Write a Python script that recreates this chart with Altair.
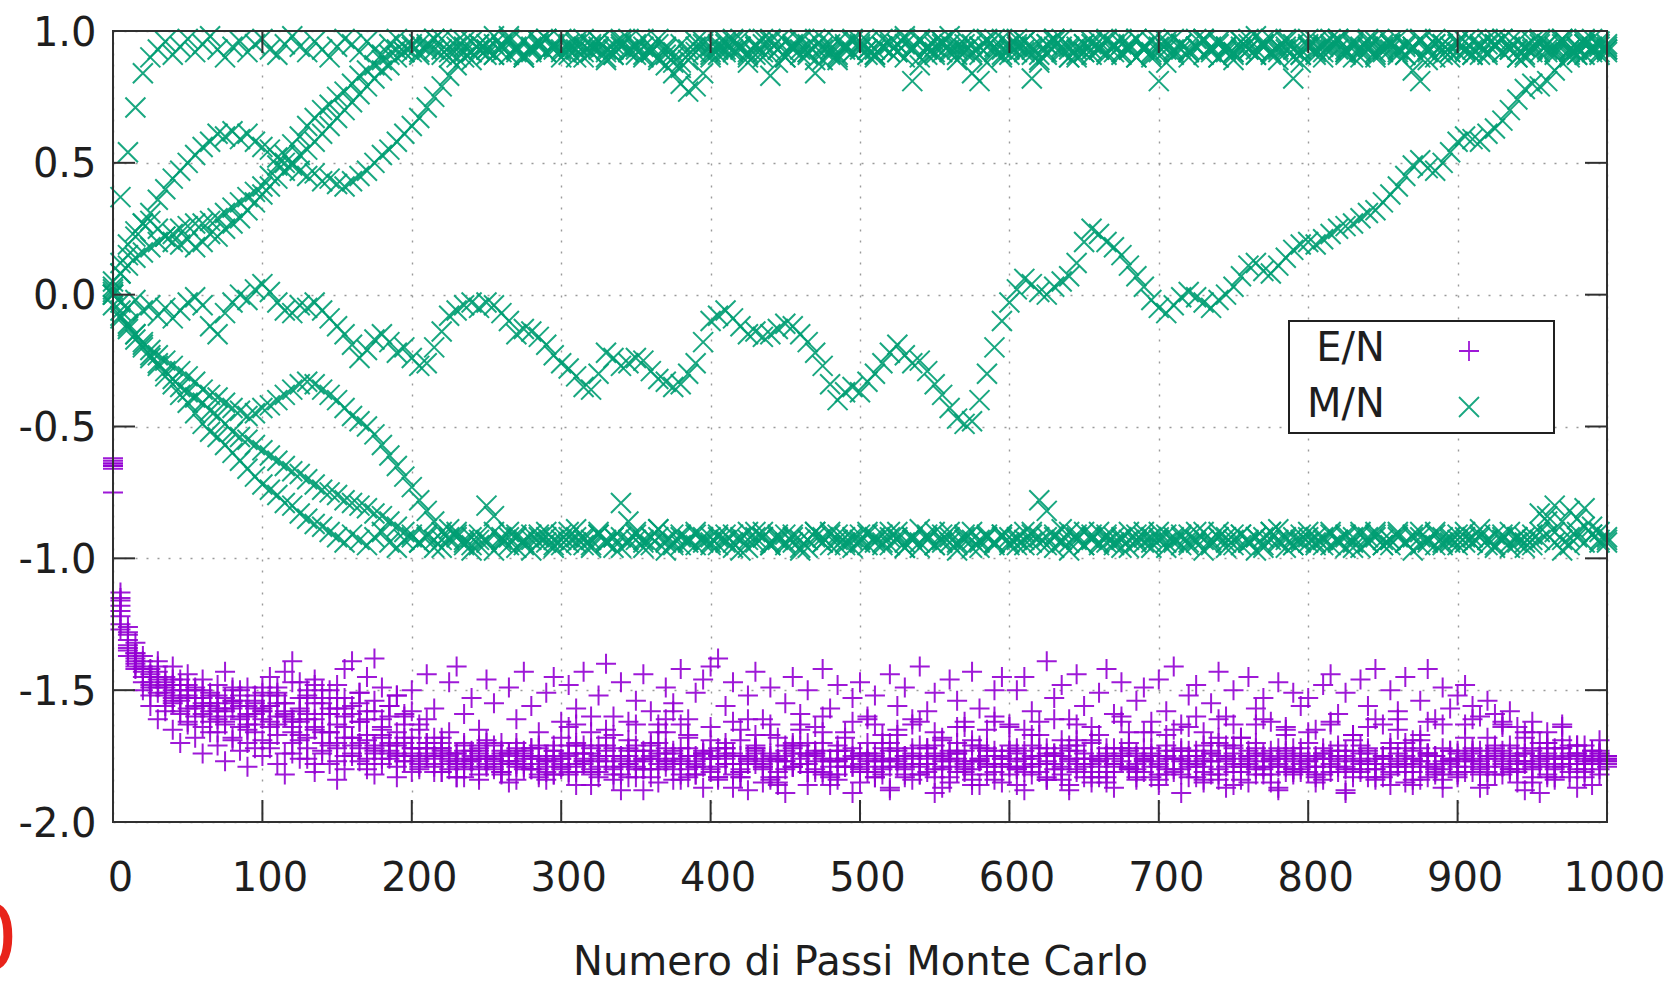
import altair as alt
import pandas as pd

# Monte Carlo runs of a 2D Ising lattice: one sample every STEP sweeps.
STEP = 5

# Magnetisation per spin (hundredths), one list per run, 201 samples each.
M_A = [
    2, 37, 54, 71, 84, 90, 93, 96, 91, 94, 97, 92, 95, 98, 93, 90, 94, 96, 92, 95,
    97, 93, 91, 95, 98, 94, 92, 96, 93, 90, 94, 97, 95, 92, 96, 93, 91, 95, 97, 94,
    92, 95, 93, 97, 91, 94, 96, 92, 89, 93, 95, 98, 94, 91, 93, 96, 92, 94, 97, 93,
    90, 94, 96, 92, 95, 93, 89, 91, 94, 97, 93, 90, 92, 95, 91, 88, 86, 89, 92, 95,
    91, 94, 92, 96, 93, 90, 94, 97, 83, 88, 96, 93, 91, 95, 97, 94, 92, 89, 93, 96,
    94, 91, 93, 97, 95, 92, 90, 94, 96, 93, 91, 95, 98, 94, 92, 84, 81, 88, 94, 97,
    95, 92, 96, 93, 89, 91, 94, 97, 93, 90, 92, 95, 93, 96, 94, 91, 95, 97, 93, 90,
    94, 96, 92, 95, 93, 97, 91, 94, 96, 92, 89, 93, 95, 98, 94, 91, 93, 96, 82, 88,
    97, 93, 90, 94, 96, 92, 95, 93, 97, 91, 94, 96, 92, 95, 93, 90, 94, 97, 95, 92,
    96, 93, 91, 95, 97, 94, 92, 96, 93, 90, 94, 97, 95, 92, 96, 93, 91, 95, 97, 94,
    92,
]
M_B = [
    0, 8, 15, 22, 27, 31, 36, 40, 44, 47, 50, 53, 56, 58, 61, 60, 62, 59, 61, 58,
    56, 55, 52, 50, 49, 47, 45, 46, 43, 44, 42, 41, 43, 45, 47, 50, 53, 55, 58, 61,
    64, 67, 71, 75, 79, 83, 87, 90, 92, 95, 93, 91, 94, 96, 92, 90, 93, 95, 97, 94,
    92, 95, 93, 90, 94, 96, 92, 95, 97, 93, 91, 94, 92, 89, 87, 84, 80, 77, 79, 84,
    90, 93, 96, 92, 94, 88, 91, 95, 97, 93, 90, 94, 96, 92, 89, 93, 95, 91, 94, 97,
    93, 96, 91, 94, 92, 95, 98, 93, 90, 94, 96, 92, 95, 93, 97, 91, 94, 96, 92, 90,
    94, 97, 93, 91, 95, 92, 96, 94, 90, 93, 95, 91, 94, 97, 92, 95, 93, 90, 94, 96,
    92, 95, 97, 93, 90, 94, 96, 92, 95, 93, 91, 94, 97, 93, 96, 92, 89, 93, 95, 91,
    94, 96, 92, 95, 97, 93, 90, 94, 96, 92, 95, 93, 97, 91, 94, 96, 92, 95, 93, 90,
    95, 92, 96, 94, 91, 95, 97, 93, 90, 94, 96, 92, 95, 93, 97, 91, 94, 96, 92, 95,
    93,
]
M_C = [
    3, 12, 19, 24, 27, 28, 25, 22, 20, 19, 21, 18, 20, 23, 22, 25, 27, 29, 32, 35,
    38, 41, 44, 47, 50, 53, 55, 58, 61, 64, 67, 70, 73, 76, 79, 82, 85, 87, 90, 92,
    94, 91, 95, 93, 97, 92, 90, 94, 96, 93, 91, 95, 92, 98, 94, 91, 93, 96, 92, 95,
    93, 91, 95, 97, 92, 94, 90, 93, 96, 92, 95, 91, 94, 97, 93, 90, 88, 91, 94, 96,
    92, 95, 93, 97, 94, 91, 95, 92, 96, 93, 90, 94, 97, 92, 84, 89, 91, 96, 94, 92,
    95, 93, 90, 94, 96, 92, 95, 93, 97, 91, 94, 96, 92, 89, 93, 95, 91, 94, 97, 93,
    91, 94, 96, 82, 88, 95, 97, 92, 94, 91, 95, 93, 96, 92, 94, 97, 93, 90, 94, 92,
    96, 93, 91, 95, 92, 94, 97, 93, 90, 94, 92, 96, 93, 91, 95, 97, 92, 94, 90, 93,
    95, 92, 94, 97, 93, 91, 96, 92, 94, 90, 93, 95, 91, 94, 85, 81, 89, 95, 91, 94,
    92, 96, 93, 91, 95, 97, 92, 94, 96, 91, 93, 95, 92, 94, 97, 93, 91, 95, 93, 96,
    94,
]
M_D = [
    5, 8, 11, 14, 16, 18, 20, 22, 23, 25, 26, 27, 27, 28, 29, 31, 33, 35, 37, 39,
    41, 45, 49, 53, 57, 60, 64, 67, 70, 72, 75, 77, 80, 83, 85, 87, 89, 91, 93, 92,
    95, 92, 94, 97, 93, 90, 94, 96, 92, 95, 93, 91, 95, 97, 93, 90, 94, 96, 92, 94,
    97, 93, 90, 94, 92, 96, 93, 91, 95, 92, 94, 97, 93, 90, 94, 92, 95, 93, 96, 92,
    94, 91, 95, 93, 97, 92, 94, 90, 93, 96, 92, 95, 93, 91, 94, 97, 93, 90, 95, 92,
    96, 93, 91, 94, 92, 95, 97, 81, 87, 94, 92, 96, 93, 91, 95, 92, 94, 97, 93, 91,
    93, 95, 92, 94, 91, 95, 97, 93, 90, 94, 92, 96, 93, 91, 95, 92, 94, 97, 93, 91,
    81, 88, 93, 95, 92, 94, 97, 93, 90, 94, 92, 96, 93, 91, 95, 92, 94, 97, 93, 91,
    94, 91, 95, 93, 97, 92, 94, 90, 93, 96, 92, 95, 93, 91, 94, 97, 93, 90, 95, 92,
    96, 93, 91, 94, 92, 95, 97, 93, 90, 94, 92, 96, 93, 91, 95, 92, 94, 97, 93, 91,
    93,
]
M_L1 = [
    1, -6, -11, -15, -19, -24, -27, -31, -34, -38, -41, -45, -49, -52, -54, -57, -60, -63, -66, -69,
    -72, -74, -76, -79, -80, -83, -85, -87, -88, -90, -92, -94, -91, -93, -95, -92, -90, -94, -96, -93,
    -91, -94, -92, -96, -93, -89, -92, -95, -97, -93, -80, -84, -92, -95, -91, -94, -97, -92, -90, -93,
    -95, -92, -89, -93, -96, -91, -94, -92, -79, -86, -93, -96, -92, -89, -94, -91, -95, -93, -90, -94,
    -92, -95, -91, -94, -97, -93, -90, -92, -95, -91, -94, -92, -96, -93, -90, -94, -91, -95, -92, -96,
    -93, -90, -94, -91, -95, -92, -96, -93, -89, -92, -95, -91, -94, -97, -93, -90, -94, -92, -95, -91,
    -94, -92, -95, -90, -78, -82, -92, -89, -94, -91, -95, -93, -90, -94, -92, -96, -93, -91, -94, -92,
    -90, -94, -92, -95, -91, -94, -97, -93, -90, -92, -95, -91, -94, -92, -96, -93, -89, -93, -95, -91,
    -94, -92, -95, -91, -93, -96, -92, -90, -94, -91, -95, -93, -90, -94, -97, -92, -94, -91, -95, -93,
    -91, -94, -92, -89, -93, -95, -91, -94, -92, -96, -93, -90, -84, -80, -86, -82, -85, -81, -88, -90,
    -93,
]
M_L2 = [
    -4, -9, -13, -17, -20, -23, -26, -29, -32, -35, -37, -39, -41, -44, -46, -49, -52, -54, -55, -57,
    -59, -61, -63, -65, -67, -68, -70, -72, -74, -75, -76, -78, -79, -80, -81, -83, -84, -86, -88, -90,
    -92, -94, -91, -93, -96, -92, -90, -93, -95, -91, -94, -97, -93, -90, -92, -95, -93, -91, -94, -96,
    -93, -90, -94, -92, -95, -91, -93, -96, -92, -94, -90, -93, -95, -92, -97, -94, -91, -93, -95, -92,
    -94, -91, -93, -96, -92, -90, -94, -92, -95, -93, -91, -94, -97, -93, -90, -92, -95, -91, -94, -93,
    -91, -95, -92, -94, -90, -93, -96, -92, -94, -91, -95, -93, -90, -94, -92, -96, -93, -91, -94, -92,
    -95, -93, -90, -94, -92, -95, -91, -94, -97, -93, -90, -92, -95, -91, -94, -92, -96, -93, -90, -94,
    -92, -96, -93, -91, -94, -90, -93, -95, -92, -94, -91, -95, -93, -97, -92, -90, -94, -92, -95, -93,
    -90, -94, -92, -95, -93, -91, -94, -96, -92, -90, -93, -95, -92, -94, -91, -95, -93, -90, -94, -92,
    -95, -92, -94, -91, -93, -96, -92, -90, -94, -92, -95, -93, -91, -94, -97, -92, -90, -88, -91, -94,
    -92,
]
M_L3 = [
    0, -8, -12, -15, -18, -21, -23, -25, -27, -29, -31, -33, -36, -38, -39, -41, -43, -44, -46, -45,
    -43, -42, -40, -38, -36, -34, -33, -34, -36, -38, -40, -43, -46, -48, -50, -53, -57, -61, -65, -69,
    -73, -78, -82, -86, -90, -93, -91, -94, -92, -95, -93, -90, -94, -92, -96, -93, -91, -94, -92, -95,
    -91, -94, -92, -95, -93, -90, -94, -92, -96, -93, -91, -94, -92, -89, -93, -95, -92, -94, -91, -93,
    -95, -92, -94, -91, -93, -96, -92, -90, -94, -92, -95, -91, -93, -96, -92, -94, -90, -93, -95, -92,
    -94, -91, -93, -95, -92, -90, -94, -92, -96, -93, -90, -94, -92, -95, -91, -93, -96, -92, -94, -91,
    -92, -95, -93, -91, -94, -92, -96, -93, -90, -92, -95, -91, -94, -92, -95, -93, -90, -94, -92, -96,
    -93, -91, -94, -92, -95, -93, -90, -94, -92, -96, -93, -91, -94, -92, -95, -90, -93, -96, -92, -94,
    -92, -95, -93, -90, -94, -92, -96, -91, -94, -92, -95, -93, -91, -94, -92, -90, -93, -95, -92, -94,
    -93, -90, -94, -92, -95, -91, -93, -96, -92, -94, -91, -83, -86, -90, -93, -95, -92, -94, -91, -93,
    -94,
]
M_W = [
    0, -3, -5, -2, -6, -4, -8, -5, -9, -6, -3, -1, -4, -12, -15, -7, -3, 0, -2, 2,
    4, 1, -3, -6, -7, -4, -5, -3, -6, -9, -12, -15, -19, -24, -21, -17, -15, -18, -22, -20,
    -24, -27, -26, -20, -14, -8, -6, -4, -3, -5, -3, -4, -7, -10, -15, -13, -14, -16, -19, -23,
    -26, -28, -31, -35, -36, -30, -22, -24, -27, -26, -24, -25, -29, -32, -33, -35, -34, -30, -26, -18,
    -10, -8, -6, -9, -12, -15, -14, -16, -15, -13, -11, -12, -15, -18, -22, -27, -34, -40, -37, -35,
    -37, -33, -30, -26, -22, -19, -23, -26, -25, -29, -34, -38, -43, -47, -49, -48, -40, -30, -20, -10,
    -3, 2, 6, 4, 1, 0, 3, 5, 7, 12, 20, 25, 23, 20, 18, 15, 11, 7, 3, -2,
    -5, -7, -4, -1, 1, -1, -3, -5, -2, 0, 3, 7, 11, 12, 9, 8, 11, 14, 17, 19,
    20, 19, 21, 23, 25, 26, 27, 29, 31, 32, 35, 38, 41, 45, 49, 51, 48, 47, 50, 54,
    58, 60, 59, 58, 61, 63, 66, 70, 74, 78, 80, 79, 81, 85, 88, 90, 93, 91, 94, 92,
    95,
]

# Energy per spin (hundredths) for the same runs.
E_A = [
    -64, -118, -135, -142, -150, -156, -161, -158, -165, -170, -163, -168, -174, -166, -171, -177, -169, -173, -179, -172,
    -175, -170, -178, -182, -174, -169, -176, -181, -173, -178, -184, -175, -171, -177, -180, -174, -168, -176, -183, -177,
    -172, -179, -175, -181, -170, -176, -183, -178, -173, -180, -176, -171, -178, -185, -177, -174, -180, -172, -177, -182,
    -176, -171, -179, -174, -181, -177, -168, -175, -182, -178, -173, -180, -175, -170, -177, -184, -176, -172, -179, -174,
    -181, -175, -170, -178, -183, -176, -172, -179, -174, -186, -177, -171, -178, -175, -181, -173, -179, -184, -176, -172,
    -178, -174, -181, -176, -170, -177, -183, -175, -179, -172, -180, -176, -185, -174, -178, -171, -177, -182, -175, -179,
    -173, -180, -176, -171, -178, -184, -175, -179, -173, -181, -176, -170, -177, -183, -178, -174, -180, -175, -172, -179,
    -184, -176, -173, -180, -175, -178, -171, -177, -182, -176, -174, -181, -178, -172, -179, -185, -176, -173, -180, -175,
    -177, -182, -174, -179, -171, -176, -183, -178, -173, -180, -175, -181, -177, -170, -178, -184, -175, -179, -172, -177,
    -181, -176, -173, -179, -175, -182, -177, -171, -178, -174, -180, -176, -183, -175, -172, -178, -174, -180, -176, -173,
    -177,
]
E_B = [
    -65, -122, -128, -136, -139, -144, -141, -147, -150, -146, -152, -149, -155, -151, -157, -153, -149, -156, -160, -154,
    -158, -152, -149, -155, -161, -157, -150, -146, -153, -159, -148, -142, -139, -151, -145, -138, -149, -156, -152, -160,
    -158, -165, -161, -168, -172, -166, -174, -170, -177, -173, -169, -176, -181, -174, -170, -178, -175, -171, -179, -182,
    -168, -181, -163, -177, -186, -171, -165, -184, -175, -162, -179, -188, -170, -166, -161, -158, -163, -168, -182, -174,
    -164, -183, -172, -187, -169, -161, -178, -185, -167, -176, -189, -170, -163, -181, -174, -166, -186, -171, -179, -162,
    -185, -170, -163, -179, -188, -167, -175, -161, -182, -172, -166, -187, -177, -164, -180, -169, -186, -173, -162, -178,
    -171, -186, -165, -178, -162, -183, -174, -169, -188, -163, -176, -181, -167, -185, -172, -160, -179, -184, -166, -175,
    -182, -167, -176, -189, -164, -173, -185, -170, -161, -179, -186, -168, -175, -163, -182, -177, -187, -165, -172, -180,
    -166, -179, -184, -162, -175, -188, -169, -181, -164, -176, -183, -170, -161, -178, -186, -167, -174, -182, -163, -177,
    -176, -163, -181, -187, -168, -174, -162, -180, -185, -166, -173, -189, -170, -178, -164, -183, -171, -175, -186, -169,
    -176,
]
E_C = [
    -66, -115, -131, -138, -142, -147, -151, -148, -154, -158, -153, -160, -156, -162, -158, -163, -155, -161, -165, -159,
    -157, -162, -155, -160, -164, -158, -153, -161, -166, -159, -163, -157, -168, -162, -167, -171, -165, -170, -174, -168,
    -172, -177, -170, -175, -181, -174, -178, -171, -176, -182, -175, -179, -173, -177, -184, -176, -172, -178, -181, -175,
    -179, -174, -170, -177, -182, -176, -173, -180, -175, -178, -171, -177, -183, -174, -179, -176, -172, -180, -177, -173,
    -176, -183, -178, -174, -180, -175, -171, -178, -184, -177, -173, -179, -176, -181, -174, -170, -177, -182, -176, -179,
    -174, -179, -175, -182, -177, -173, -180, -176, -171, -178, -183, -175, -179, -174, -181, -177, -172, -178, -184, -176,
    -179, -174, -181, -176, -172, -178, -175, -182, -177, -173, -179, -185, -176, -172, -178, -175, -180, -174, -177, -183,
    -175, -180, -176, -172, -179, -183, -177, -174, -180, -175, -171, -178, -176, -182, -174, -179, -175, -181, -177, -172,
    -179, -175, -182, -176, -173, -180, -177, -171, -178, -184, -175, -179, -174, -181, -176, -172, -179, -175, -182, -178,
    -174, -181, -177, -173, -179, -175, -182, -176, -172, -178, -185, -177, -174, -180, -176, -171, -178, -183, -177, -174,
    -179,
]
E_D = [
    -63, -120, -133, -140, -145, -149, -146, -152, -155, -150, -157, -153, -159, -156, -161, -158, -154, -160, -163, -157,
    -161, -156, -163, -159, -166, -162, -168, -164, -170, -166, -172, -168, -174, -170, -176, -172, -178, -174, -171, -177,
    -175, -180, -174, -178, -172, -177, -183, -176, -179, -174, -170, -177, -181, -175, -178, -173, -180, -176, -184, -177,
    -179, -164, -186, -171, -160, -183, -175, -167, -188, -172, -163, -180, -176, -185, -166, -173, -182, -161, -178, -187,
    -169, -184, -174, -162, -181, -188, -167, -176, -163, -185, -171, -179, -165, -186, -173, -160, -182, -177, -168, -189,
    -174, -161, -183, -170, -187, -165, -178, -184, -162, -176, -189, -168, -173, -181, -164, -186, -171, -179, -160, -185,
    -163, -180, -188, -167, -175, -184, -161, -172, -186, -169, -178, -164, -183, -175, -187, -162, -170, -181, -176, -166,
    -186, -171, -165, -182, -177, -160, -184, -173, -168, -187, -163, -179, -185, -170, -161, -176, -188, -167, -181, -174,
    -170, -185, -176, -163, -181, -189, -167, -174, -183, -161, -178, -186, -165, -172, -184, -169, -162, -180, -187, -173,
    -183, -168, -161, -177, -186, -172, -164, -181, -175, -188, -166, -179, -170, -184, -163, -176, -187, -171, -178, -182,
    -175,
]
E_L1 = [
    -75, -125, -137, -141, -147, -152, -149, -156, -153, -159, -162, -157, -164, -160, -166, -162, -168, -164, -170, -166,
    -169, -172, -167, -174, -170, -176, -172, -178, -174, -171, -177, -180, -175, -172, -178, -182, -176, -173, -179, -175,
    -181, -176, -172, -179, -174, -180, -177, -183, -175, -171, -178, -176, -182, -174, -179, -175, -172, -180, -177, -173,
    -176, -182, -178, -174, -180, -175, -171, -179, -176, -183, -177, -173, -180, -176, -172, -178, -184, -175, -179, -174,
    -180, -175, -172, -178, -183, -176, -174, -179, -175, -181, -177, -172, -178, -174, -180, -176, -183, -177, -173, -179,
    -175, -181, -177, -172, -179, -176, -182, -174, -178, -175, -171, -177, -183, -176, -173, -180, -176, -172, -178, -175,
    -182, -177, -173, -179, -175, -172, -178, -184, -176, -180, -174, -178, -175, -181, -176, -172, -179, -183, -177, -174,
    -177, -173, -180, -176, -183, -175, -179, -174, -170, -177, -181, -176, -173, -179, -175, -182, -178, -174, -180, -176,
    -181, -176, -172, -178, -175, -179, -173, -180, -177, -183, -176, -172, -179, -175, -181, -177, -174, -178, -184, -176,
    -173, -179, -176, -182, -175, -171, -178, -174, -180, -177, -183, -175, -172, -179, -176, -181, -174, -178, -175, -180,
    -177,
]
E_L2 = [
    -62, -127, -134, -139, -143, -148, -145, -151, -148, -154, -150, -156, -153, -158, -155, -160, -157, -152, -159, -163,
    -158, -164, -160, -155, -162, -167, -161, -165, -159, -166, -170, -164, -168, -162, -169, -173, -167, -171, -175, -170,
    -174, -178, -172, -176, -181, -175, -179, -173, -177, -184, -176, -180, -174, -178, -172, -179, -175, -182, -176, -173,
    -180, -175, -171, -178, -174, -181, -177, -172, -179, -175, -183, -176, -173, -180, -177, -174, -178, -175, -182, -176,
    -173, -179, -176, -182, -175, -178, -172, -177, -183, -176, -180, -174, -171, -178, -175, -181, -177, -173, -179, -176,
    -180, -176, -183, -177, -173, -179, -175, -172, -178, -181, -175, -179, -174, -170, -177, -182, -176, -179, -173, -178,
    -176, -172, -179, -175, -181, -177, -174, -180, -176, -171, -178, -183, -177, -174, -179, -175, -172, -178, -181, -175,
    -179, -182, -176, -173, -178, -175, -181, -177, -184, -176, -172, -179, -175, -180, -177, -173, -179, -176, -182, -178,
    -175, -179, -174, -181, -177, -173, -180, -176, -172, -178, -175, -182, -176, -179, -173, -177, -183, -175, -180, -176,
    -182, -177, -174, -180, -176, -173, -179, -175, -181, -177, -172, -178, -176, -183, -179, -174, -180, -176, -173, -178,
    -176,
]
E_L3 = [
    -64, -113, -129, -136, -141, -145, -143, -149, -146, -152, -148, -153, -150, -155, -152, -157, -154, -150, -156, -152,
    -149, -145, -151, -143, -139, -147, -152, -148, -155, -150, -157, -153, -159, -155, -161, -158, -164, -160, -166, -163,
    -168, -172, -170, -175, -173, -178, -174, -180, -176, -172, -179, -175, -181, -177, -173, -180, -176, -183, -175, -171,
    -178, -174, -181, -176, -172, -179, -175, -182, -177, -173, -180, -176, -171, -178, -174, -180, -177, -183, -175, -179,
    -176, -172, -178, -175, -181, -177, -173, -180, -176, -183, -175, -179, -174, -170, -177, -182, -176, -173, -179, -175,
    -181, -177, -174, -180, -176, -172, -179, -175, -182, -178, -174, -180, -176, -173, -179, -184, -177, -175, -181, -176,
    -173, -179, -176, -182, -178, -174, -180, -175, -171, -178, -183, -176, -179, -175, -181, -177, -173, -180, -176, -172,
    -178, -175, -181, -177, -173, -179, -176, -182, -175, -171, -178, -184, -177, -174, -180, -176, -172, -179, -175, -181,
    -177, -183, -176, -173, -179, -175, -181, -177, -174, -180, -176, -172, -178, -185, -176, -179, -174, -181, -177, -173,
    -179, -175, -172, -178, -181, -176, -173, -180, -177, -174, -179, -175, -182, -176, -172, -178, -175, -181, -177, -174,
    -178,
]
E_W = [
    -65, -116, -126, -132, -137, -142, -139, -145, -141, -148, -144, -150, -146, -152, -148, -143, -150, -154, -149, -155,
    -151, -156, -152, -158, -147, -153, -159, -155, -150, -157, -153, -160, -156, -151, -158, -154, -161, -156, -152, -159,
    -150, -163, -144, -157, -168, -147, -141, -159, -153, -165, -146, -155, -170, -149, -161, -143, -156, -166, -151, -145,
    -162, -148, -157, -143, -166, -152, -140, -160, -147, -169, -154, -144, -158, -163, -149, -155, -142, -167, -151, -146,
    -141, -138, -156, -147, -165, -152, -143, -161, -149, -168, -155, -145, -159, -150, -164, -142, -157, -148, -166, -153,
    -147, -160, -152, -167, -144, -156, -149, -163, -141, -158, -151, -169, -146, -154, -162, -143, -157, -165, -150, -145,
    -164, -150, -145, -158, -167, -139, -153, -148, -161, -144, -156, -169, -151, -142, -159, -147, -166, -154, -149, -162,
    -146, -158, -141, -163, -152, -148, -166, -155, -143, -160, -150, -168, -145, -157, -153, -162, -147, -164, -151, -156,
    -153, -165, -148, -144, -159, -151, -167, -146, -156, -142, -163, -150, -158, -145, -169, -154, -142, -161, -149, -157,
    -152, -148, -156, -160, -154, -159, -163, -158, -164, -168, -162, -170, -166, -172, -169, -175, -171, -177, -173, -176,
    -175,
]

M_RUNS = {"A": M_A, "B": M_B, "C": M_C, "D": M_D,
          "L1": M_L1, "L2": M_L2, "L3": M_L3, "W": M_W}
E_RUNS = {"A": E_A, "B": E_B, "C": E_C, "D": E_D,
          "L1": E_L1, "L2": E_L2, "L3": E_L3, "W": E_W}

SERIES = ["E/N", "M/N"]
COLORS = {"E/N": "#9400D3", "M/N": "#009E73"}
X_TICKS = [0, 100, 200, 300, 400, 500, 600, 700, 800, 900, 1000]
Y_TICKS = [-2.0, -1.5, -1.0, -0.5, 0.0, 0.5, 1.0]
X_TITLE = "Numero di Passi Monte Carlo"
CORNER_MARK = "0"

# Plot geometry (pixels)
W, H = 1494, 791
TICK_LEN = 22
FONT = "DejaVu Sans"
INK = "#1e1e1e"

# gnuplot-style thin point symbols
PLUS = "M-1,0L1,0M0,-1L0,1"
CROSS = "M-1,-1L1,1M-1,1L1,-1"
SHAPES = {"E/N": PLUS, "M/N": CROSS}


def to_frame(runs, name):
    rows = []
    for run, vals in runs.items():
        for i, v in enumerate(vals):
            rows.append({"step": i * STEP, "value": v / 100.0, "run": run, "series": name})
    return pd.DataFrame(rows)


energy = to_frame(E_RUNS, "E/N")
magnet = to_frame(M_RUNS, "M/N")

x_scale = alt.Scale(domain=[0, 1000], nice=False, zero=False)
y_scale = alt.Scale(domain=[-2.0, 1.0], nice=False, zero=False)

x_axis = alt.Axis(
    values=X_TICKS, format="d", title=X_TITLE, grid=True, ticks=False, tickSize=0,
    domain=False, labelFont=FONT, labelFontSize=40, labelColor=INK, labelPadding=36,
    labelOffset=7, labelFlush=False, labelOverlap=False, titleFont=FONT, titleFontSize=40,
    titleFontWeight="normal", titleColor=INK, titleY=152, titleBaseline="alphabetic",
    gridColor="#9a9a9a", gridDash=[2, 9], gridWidth=1.4,
)
y_axis = alt.Axis(
    values=Y_TICKS, title=None, grid=True, ticks=False, tickSize=0, domain=False,
    labelExpr="replace(format(datum.value, '.1f'), '\u2212', '-')",
    labelFont=FONT, labelFontSize=40, labelColor=INK, labelPadding=17, labelOffset=2,
    labelFlush=False, labelOverlap=False,
    gridColor="#9a9a9a", gridDash=[2, 9], gridWidth=1.4,
)

X = alt.X("step:Q", scale=x_scale, axis=x_axis)
Y = alt.Y("value:Q", scale=y_scale, axis=y_axis)


def scatter(df, name):
    return alt.Chart(df).mark_point(
        shape=SHAPES[name], size=400, filled=False, strokeWidth=2.0,
        color=COLORS[name], opacity=0.9,
    ).encode(x=X, y=Y)


layers = [scatter(energy, "E/N"), scatter(magnet, "M/N")]

# inward ticks on all four sides
xt = pd.DataFrame({"step": X_TICKS})
yt = pd.DataFrame({"value": Y_TICKS})
tick_style = dict(color="#303030", strokeWidth=2)
layers += [
    alt.Chart(xt).mark_rule(**tick_style).encode(x=X, y=alt.value(H), y2=alt.value(H - TICK_LEN)),
    alt.Chart(xt).mark_rule(**tick_style).encode(x=X, y=alt.value(0), y2=alt.value(TICK_LEN)),
    alt.Chart(yt).mark_rule(**tick_style).encode(y=Y, x=alt.value(0), x2=alt.value(TICK_LEN)),
    alt.Chart(yt).mark_rule(**tick_style).encode(y=Y, x=alt.value(W), x2=alt.value(W - TICK_LEN)),
]

# plot border
one = pd.DataFrame({"k": [0]})
layers.append(
    alt.Chart(one).mark_rect(fill=None, stroke="#303030", strokeWidth=2).encode(
        x=alt.value(0), x2=alt.value(W), y=alt.value(0), y2=alt.value(H))
)

# key box: label on the left, symbol on the right
KEY_X0, KEY_X1, KEY_Y0, KEY_Y1 = 1176, 1441, 290, 402
layers.append(
    alt.Chart(one).mark_rect(fill="white", stroke="#202020", strokeWidth=2).encode(
        x=alt.value(KEY_X0), x2=alt.value(KEY_X1), y=alt.value(KEY_Y0), y2=alt.value(KEY_Y1))
)
for k, name in enumerate(SERIES):
    row_y = 320 + 56 * k
    lab = pd.DataFrame({"label": [name]})
    layers.append(
        alt.Chart(lab).mark_text(
            font=FONT, fontSize=40, color=INK, align="right", baseline="middle",
        ).encode(text="label:N", x=alt.value(1272), y=alt.value(row_y - 2))
    )
    layers.append(
        alt.Chart(lab).mark_point(
            shape=SHAPES[name], size=400, filled=False, strokeWidth=1.8,
            color=COLORS[name], opacity=0.9,
        ).encode(x=alt.value(1356), y=alt.value(row_y))
    )

# red glyph cut by the left edge of the figure
layers.append(
    alt.Chart(pd.DataFrame({"t": [CORNER_MARK]})).mark_text(
        font=FONT, fontSize=90, color="#e8231a", align="left", baseline="alphabetic",
    ).encode(text="t:N", x=alt.value(-152), y=alt.value(939))
)

chart = alt.layer(*layers).properties(
    width=W, height=H, background="white",
    autosize=alt.AutoSizeParams(type="none"),
    padding={"left": 113, "top": 31, "right": 60, "bottom": 160},
).configure_view(stroke=None)

chart.save("out.html", embed_options={"renderer": "svg", "actions": False})
